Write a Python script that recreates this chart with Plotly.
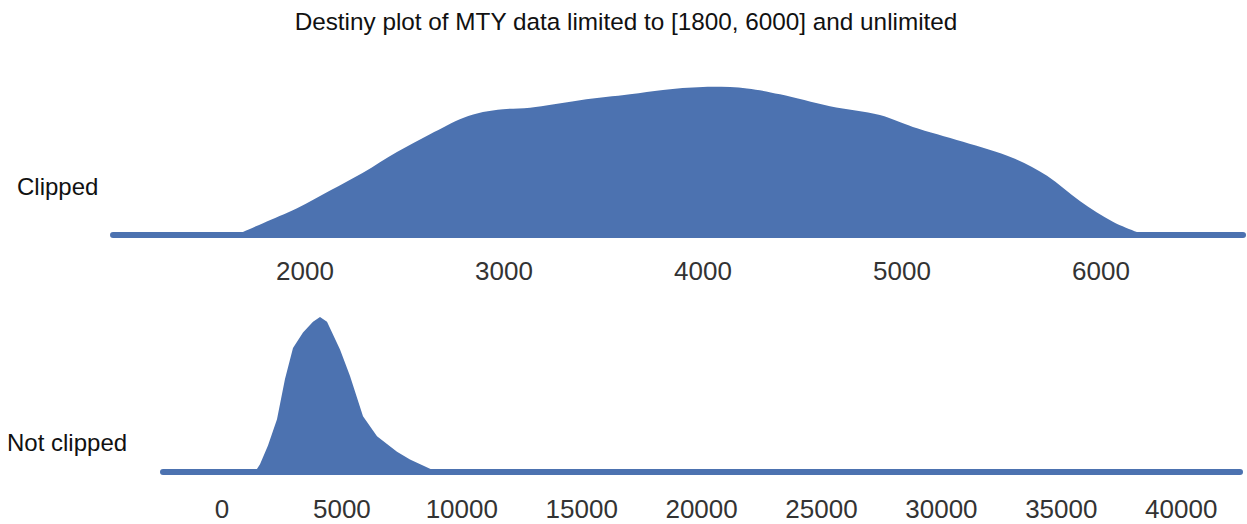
import plotly.graph_objects as go
from plotly.subplots import make_subplots

# densidad recortada a [1800, 6000] (alturas relativas)
clipped_x = [1660, 1688, 1789, 1960, 2126, 2291, 2462, 2628, 2794, 2894, 2995, 3131,
             3382, 3633, 3799, 4000, 4221, 4387, 4638, 4889, 5055, 5307, 5558, 5729,
             5894, 6060, 6181, 6221]
clipped_y = [0.0, 0.02, 0.08, 0.18, 0.30, 0.42, 0.56, 0.68, 0.79, 0.83, 0.85, 0.86,
             0.91, 0.95, 0.98, 1.0, 0.99, 0.95, 0.87, 0.81, 0.73, 0.63, 0.52, 0.40,
             0.23, 0.09, 0.02, 0.0]
clipped_span = [1035, 6714]

# densidad sin recortar
raw_x = [1376, 1585, 1918, 2294, 2627, 2961, 3378, 3795, 4087, 4379, 4921, 5338,
         5880, 6464, 6881, 7298, 7840, 8549, 8966]
raw_y = [0.0, 0.05, 0.17, 0.34, 0.60, 0.80, 0.90, 0.97, 1.0, 0.97, 0.79, 0.62,
         0.36, 0.23, 0.18, 0.13, 0.08, 0.03, 0.0]
raw_span = [-2460, 42452]

clipped_ticks = [2000, 3000, 4000, 5000, 6000]
raw_ticks = [0, 5000, 10000, 15000, 20000, 25000, 30000, 35000, 40000]

row_labels = ['Clipped', 'Not clipped']
title = 'Destiny plot of MTY data limited to [1800, 6000] and unlimited'

color = '#4C72B0'
W, H = 1247, 524

fig = make_subplots(rows=2, cols=1)

fig.add_trace(go.Scatter(x=clipped_x, y=clipped_y, fill='tozeroy', fillcolor=color,
                         mode='lines', line=dict(width=0, color=color, shape='spline')),
              row=1, col=1)
fig.add_trace(go.Scatter(x=clipped_span, y=[0, 0], mode='lines+markers',
                         line=dict(width=6, color=color),
                         marker=dict(size=6, color=color)), row=1, col=1)
fig.add_trace(go.Scatter(x=raw_x, y=raw_y, fill='tozeroy', fillcolor=color,
                         mode='lines', line=dict(width=0, color=color)),
              row=2, col=1)
fig.add_trace(go.Scatter(x=raw_span, y=[0, 0], mode='lines+markers',
                         line=dict(width=6, color=color),
                         marker=dict(size=6, color=color)), row=2, col=1)


def py(p):
    return 1 - p / H


axis_common = dict(showgrid=False, zeroline=False, showline=False,
                   ticks='outside', ticklen=8, tickcolor='rgba(0,0,0,0)',
                   tickfont=dict(family='Liberation Sans, Arial', size=26, color='#333333'))

fig.update_xaxes(range=[467, 6734], domain=[0, 1], tickvals=clipped_ticks,
                 ticktext=[str(t) for t in clipped_ticks], row=1, col=1, **axis_common)
fig.update_xaxes(range=[-9257, 42743], domain=[0, 1], tickvals=raw_ticks,
                 ticktext=[str(t) for t in raw_ticks], row=2, col=1, **axis_common)
fig.update_yaxes(visible=False, range=[-0.034, 1.047], domain=[py(240), py(80)], row=1, col=1)
fig.update_yaxes(visible=False, range=[-0.039, 1.11], domain=[py(478), py(300)], row=2, col=1)

label_font = dict(family='Liberation Sans, Arial', size=24, color='#111111')
fig.add_annotation(text=row_labels[0], x=15 / W, y=py(186), xref='paper', yref='paper',
                   xanchor='left', yanchor='middle', showarrow=False, font=label_font)
fig.add_annotation(text=row_labels[1], x=5 / W, y=py(442), xref='paper', yref='paper',
                   xanchor='left', yanchor='middle', showarrow=False, font=label_font)

fig.update_layout(
    title=dict(text=title, x=626 / W, xanchor='center', y=py(21), yanchor='middle',
               font=dict(family='Liberation Sans, Arial', size=24.3, color='#111111')),
    width=W, height=H,
    margin=dict(l=0, r=0, t=0, b=0),
    plot_bgcolor='white', paper_bgcolor='white',
    showlegend=False,
)

# quitar el margen por defecto del body para que la figura quede en (0, 0)
fig.write_html('out.html', config={'displayModeBar': False},
               post_script="document.body.style.margin='0';")
